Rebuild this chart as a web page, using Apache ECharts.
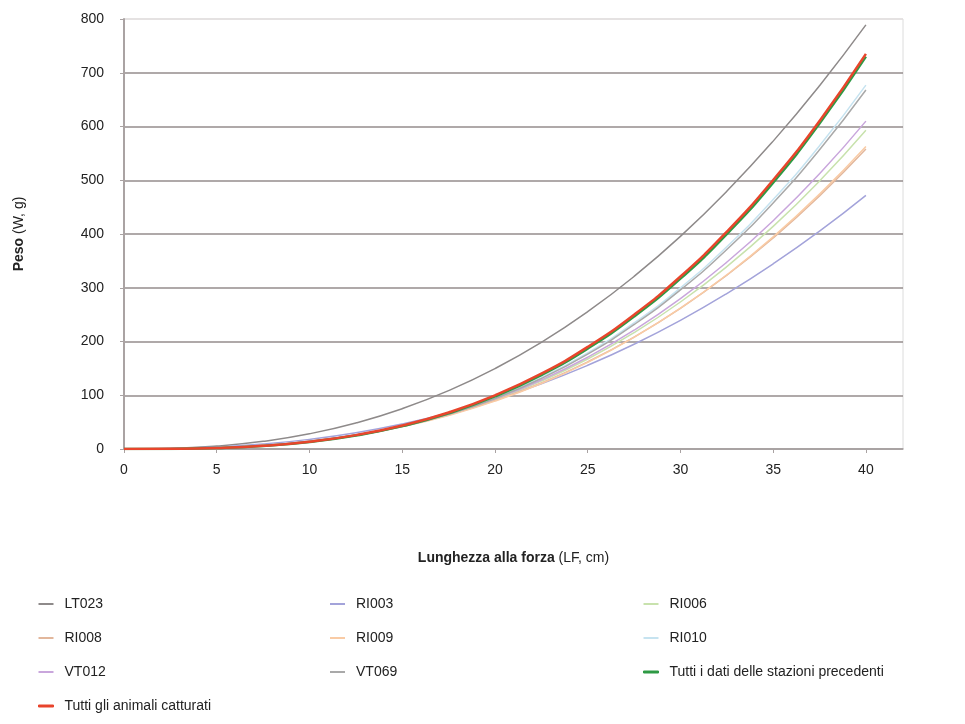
<!DOCTYPE html>
<html>
<head>
<meta charset="utf-8">
<script src="https://cdn.jsdelivr.net/npm/echarts@6/dist/echarts.min.js"></script>
<style>
html,body{margin:0;padding:0;background:#fff;}
#chart{width:965px;height:724px;}
</style>
</head>
<body>
<div id="chart"></div>
<script>
// Lunghezza alla forza (LF, cm)
const lengths = [0, 2.5, 5, 7.5, 10, 12.5, 15, 17.5, 20, 22.5, 25, 27.5, 30, 32.5, 35, 37.5, 40];
// Peso (W, g)
const LT023   = [0, 1.0, 5.4, 14.2, 28.3, 48.4, 75.0, 108.5, 149.5, 198.3, 255.4, 321.0, 395.5, 479.4, 572.8, 675.9, 789];
const RI003   = [0, 0.7, 3.5, 9.1, 17.9, 30.3, 46.7, 67.1, 92.0, 121.4, 155.7, 194.9, 239.3, 289.2, 344.5, 405.3, 472];
const RI006   = [0, 0.3, 2.2, 6.6, 14.2, 26.0, 42.4, 64.2, 91.9, 126.2, 167.5, 216.5, 273.5, 339.3, 414.1, 498.5, 593];
const RI008   = [0, 0.4, 2.4, 6.8, 14.6, 26.2, 42.3, 63.4, 90.1, 122.9, 162.1, 208.3, 261.8, 323.2, 392.7, 470.8, 558];
const RI009   = [0, 0.4, 2.2, 6.6, 14.1, 25.5, 41.4, 62.4, 89.1, 121.8, 161.3, 207.8, 261.9, 324.1, 394.6, 474.2, 563];
const RI010   = [0, 0.3, 1.9, 5.9, 13.4, 25.2, 42.2, 65.3, 95.2, 132.9, 179.0, 234.5, 299.9, 376.2, 464.0, 564.1, 677];
const VT012   = [0, 0.3, 2.2, 6.5, 14.3, 26.1, 42.8, 64.9, 93.2, 128.3, 170.7, 221.0, 279.7, 347.6, 424.8, 511.9, 610];
const VT069   = [0, 0.3, 1.9, 5.9, 13.2, 24.9, 41.6, 64.4, 93.9, 131.1, 176.6, 231.4, 295.9, 371.2, 457.8, 556.6, 668];
const precedenti = [0, 0.2, 1.8, 5.7, 13.1, 25.0, 42.5, 66.4, 97.8, 137.6, 186.8, 246.3, 316.9, 399.8, 495.6, 605.4, 730];
const animali = [0, 0.3, 1.8, 5.9, 13.6, 25.8, 43.6, 68.0, 99.9, 140.1, 189.9, 249.8, 320.9, 404.3, 500.4, 610.4, 735];

const xTicks = [0, 5, 10, 15, 20, 25, 30, 35, 40];
const yTicks = [0, 100, 200, 300, 400, 500, 600, 700, 800];

const seriesDefs = [
  {name: 'LT023', data: LT023, color: '#8e8a8a', width: 1.5},
  {name: 'RI003', data: RI003, color: '#a3a3da', width: 1.5},
  {name: 'RI006', data: RI006, color: '#c8e2ad', width: 1.5},
  {name: 'RI008', data: RI008, color: '#e2b79c', width: 1.5},
  {name: 'RI009', data: RI009, color: '#f9cba5', width: 1.5},
  {name: 'RI010', data: RI010, color: '#c6e3f0', width: 1.5},
  {name: 'VT012', data: VT012, color: '#c9a6dc', width: 1.5},
  {name: 'VT069', data: VT069, color: '#a9a9a9', width: 1.5},
  {name: 'Tutti i dati delle stazioni precedenti', data: precedenti, color: '#2f9a45', width: 2.5},
  {name: 'Tutti gli animali catturati', data: animali, color: '#e8452c', width: 2.5}
];

const colorOf = {};
const widthOf = {};
seriesDefs.forEach(s => { colorOf[s.name] = s.color; widthOf[s.name] = s.width; });

const series = seriesDefs.map(s => ({
  name: s.name,
  type: 'line',
  data: lengths.map((x, i) => [x, s.data[i]]),
  smooth: true,
  symbol: 'none',
  showSymbol: false,
  silent: true,
  lineStyle: {color: s.color, width: s.width},
  itemStyle: {color: s.color},
  z: 3
}));

function legendItems(names) {
  return names.map(n => ({
    name: n,
    icon: 'rect',
    itemStyle: {color: colorOf[n], borderColor: colorOf[n], borderWidth: widthOf[n] > 2 ? 1 : 0}
  }));
}

const legendCommon = {
  orient: 'vertical',
  top: 596,
  padding: 0,
  itemGap: 18,
  itemWidth: 15,
  itemHeight: 2,
  textStyle: {fontFamily: 'Liberation Sans, Arial, sans-serif', fontSize: 14, color: '#222', lineHeight: 16, padding: [0, 0, 0, 6]},
  selectedMode: false
};

const gridColors = yTicks.map((v, i) => i === yTicks.length - 1 ? '#e2dede' : '#958d8d');

const option = {
  animation: false,
  backgroundColor: '#ffffff',
  grid: {left: 124, right: 62, top: 19, bottom: 275, show: true, borderColor: '#dcdcdc', borderWidth: 1},
  xAxis: {
    type: 'value',
    min: 0, max: 42, interval: 5,
    name: '{b|Lunghezza alla forza} (LF, cm)',
    nameLocation: 'middle',
    nameGap: 102,
    nameTextStyle: {fontFamily: 'Liberation Sans, Arial, sans-serif', fontSize: 14, color: '#222',
      rich: {b: {fontWeight: 'bold', fontFamily: 'Liberation Sans, Arial, sans-serif', fontSize: 14, color: '#222'}}},
    axisLine: {show: true, lineStyle: {color: '#a9a2a2', width: 1.5}},
    axisTick: {show: true, length: 4, lineStyle: {color: '#a9a2a2'}},
    axisLabel: {fontFamily: 'Liberation Sans, Arial, sans-serif', fontSize: 14, color: '#222', margin: 14,
      showMaxLabel: false,
      formatter: v => xTicks.indexOf(v) >= 0 ? String(v) : ''},
    splitLine: {show: false}
  },
  yAxis: {
    type: 'value',
    min: 0, max: 800, interval: 100,
    name: '{b|Peso} (W, g)',
    nameLocation: 'middle',
    nameGap: 98,
    nameRotate: 90,
    nameTextStyle: {fontFamily: 'Liberation Sans, Arial, sans-serif', fontSize: 14, color: '#222',
      rich: {b: {fontWeight: 'bold', fontFamily: 'Liberation Sans, Arial, sans-serif', fontSize: 14, color: '#222'}}},
    axisLine: {show: true, lineStyle: {color: '#aaa3a3', width: 2}},
    axisTick: {show: true, length: 4, lineStyle: {color: '#aaa3a3'}},
    axisLabel: {fontFamily: 'Liberation Sans, Arial, sans-serif', fontSize: 14, color: '#222', margin: 20,
      formatter: v => yTicks.indexOf(v) >= 0 ? String(v) : ''},
    splitLine: {show: true, lineStyle: {color: gridColors, width: 1.5}}
  },
  legend: [
    Object.assign({}, legendCommon, {left: 38, data: legendItems(['LT023', 'RI008', 'VT012', 'Tutti gli animali catturati'])}),
    Object.assign({}, legendCommon, {left: 330, data: legendItems(['RI003', 'RI009', 'VT069'])}),
    Object.assign({}, legendCommon, {left: 643, data: legendItems(['RI006', 'RI010', 'Tutti i dati delle stazioni precedenti'])})
  ],
  series: series
};

const chart = echarts.init(document.getElementById('chart'), null, {renderer: 'canvas'});
chart.setOption(option);
</script>
</body>
</html>
